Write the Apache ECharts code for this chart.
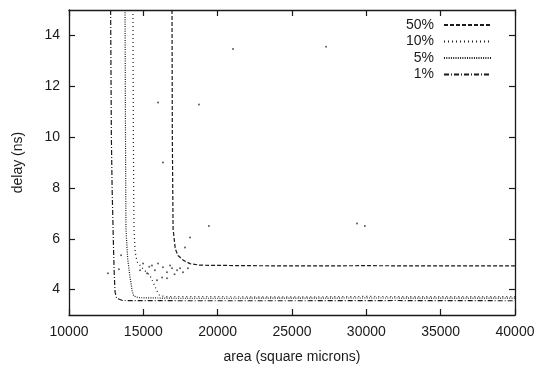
<!DOCTYPE html>
<html><head><meta charset="utf-8">
<script src="https://cdn.jsdelivr.net/npm/echarts@6/dist/echarts.min.js"></script>
<style>html,body{margin:0;padding:0;background:#fff}#c{width:545px;height:372px}</style>
</head><body><div id="c"></div>
<script>
// Data (area in square microns, delay in ns)
const seriesNames = ['50%', '10%', '5%', '1%'];
const curve50 = [[16930,15],[16950,10],[17000,6.4],[17150,5.6],[17330,5.34],[17700,5.15],[18140,5.02],[18800,4.96],[22000,4.94],[26000,4.93],[30000,4.94],[35000,4.93],[40000,4.93]];
const curve10 = [[14300,15],[14330,10],[14370,6.4],[14450,5.5],[14570,5.1],[15000,4.8],[15450,4.55],[15780,4.13],[15950,3.9],[16100,3.76],[16600,3.72],[20000,3.72],[25000,3.71],[30000,3.73],[35000,3.72],[40000,3.72]];
const curve5 = [[13770,15],[13800,10],[13830,6.4],[13950,5.2],[14100,4.5],[14250,3.95],[14350,3.75],[14700,3.68],[17000,3.66],[22000,3.66],[30000,3.67],[40000,3.66]];
const curve1 = [[12800,15],[12850,10],[12900,8],[13000,5.5],[13050,4.5],[13100,3.9],[13200,3.66],[13600,3.57],[18000,3.56],[25000,3.56],[32000,3.57],[40000,3.56]];
const specks = [[14980,5.03],[15580,4.95],[15780,4.76],[15990,5.03],[16320,4.88],[16590,4.68],[16930,4.84],[17270,4.76],[17470,4.84],[17670,4.68],[16260,4.48],[16590,4.45],[15920,4.37],[15250,4.64],[14780,4.76],[18000,4.84],[18140,6.05],[17800,5.66],[12620,4.64],[13360,4.8],[15990,11.36],[18740,11.28],[21030,13.47],[27290,13.55],[16320,9.0],[13500,5.35],[19410,6.5],[29370,6.6],[29900,6.5],[15400,4.9],[16800,4.95],[17100,4.6]];
const xTicks = [10000, 15000, 20000, 25000, 30000, 35000, 40000];
const yTicks = [4, 6, 8, 10, 12, 14];

const font = 'Liberation Sans, Arial, Helvetica, sans-serif';
const ink = '#1a1a1a';
const chart = echarts.init(document.getElementById('c'), null, {renderer: 'canvas'});
function mkLine(name, data, type) {
  return {name, type: 'line', data, symbol: 'none', showSymbol: false, smooth: false,
    xAxisIndex: 0, yAxisIndex: 0, animation: false,
    lineStyle: {color: ink, width: 1.2, type}, itemStyle: {color: ink}, z: 3};
}
const axLine = {show: true, lineStyle: {color: ink, width: 1.3}};
function tick(vals) {
  return {show: true, inside: true, length: 6, customValues: vals, lineStyle: {color: ink, width: 1.2}};
}
chart.setOption({
  animation: false,
  backgroundColor: '#fff',
  grid: {left: 69, right: 30, top: 10, bottom: 57, containLabel: false},
  legend: {
    data: seriesNames, orient: 'vertical', right: 48, top: 13, align: 'right',
    itemWidth: 47, itemHeight: 10, itemGap: 2.5,
    itemStyle: {opacity: 0},
    textStyle: {fontFamily: font, fontSize: 14, color: ink, padding: [0, 5, 0, 0]}
  },
  xAxis: [
    {type: 'value', min: 10000, max: 40000, interval: 5000, position: 'bottom',
      name: 'area (square microns)', nameLocation: 'middle', nameGap: 35,
      nameTextStyle: {fontFamily: font, fontSize: 14, color: ink},
      axisLine: axLine, axisTick: tick(xTicks), splitLine: {show: false},
      axisLabel: {fontFamily: font, fontSize: 14, color: ink, margin: 10, customValues: xTicks,
        formatter: v => String(v)}},
    {type: 'value', min: 10000, max: 40000, interval: 5000, position: 'top',
      axisLine: axLine, axisTick: tick(xTicks), splitLine: {show: false},
      axisLabel: {show: false}}
  ],
  yAxis: [
    {type: 'value', min: 3, max: 15, interval: 1, position: 'left',
      name: 'delay (ns)', nameLocation: 'middle', nameGap: 44,
      nameTextStyle: {fontFamily: font, fontSize: 14, color: ink},
      axisLine: axLine, axisTick: tick(yTicks), splitLine: {show: false},
      axisLabel: {fontFamily: font, fontSize: 14, color: ink, margin: 9, customValues: yTicks,
        formatter: v => String(v)}},
    {type: 'value', min: 3, max: 15, interval: 1, position: 'right',
      axisLine: axLine, axisTick: tick(yTicks), splitLine: {show: false},
      axisLabel: {show: false}}
  ],
  series: [
    mkLine('50%', curve50, [4, 2]),
    mkLine('10%', curve10, [1, 3]),
    mkLine('5%', curve5, [1, 1.3]),
    mkLine('1%', curve1, [5, 2, 1, 2]),
    {name: 'specks', type: 'scatter', data: specks, symbol: 'circle', symbolSize: 2,
      itemStyle: {color: '#333'}, silent: true, z: 2, animation: false}
  ]
});
</script></body></html>
